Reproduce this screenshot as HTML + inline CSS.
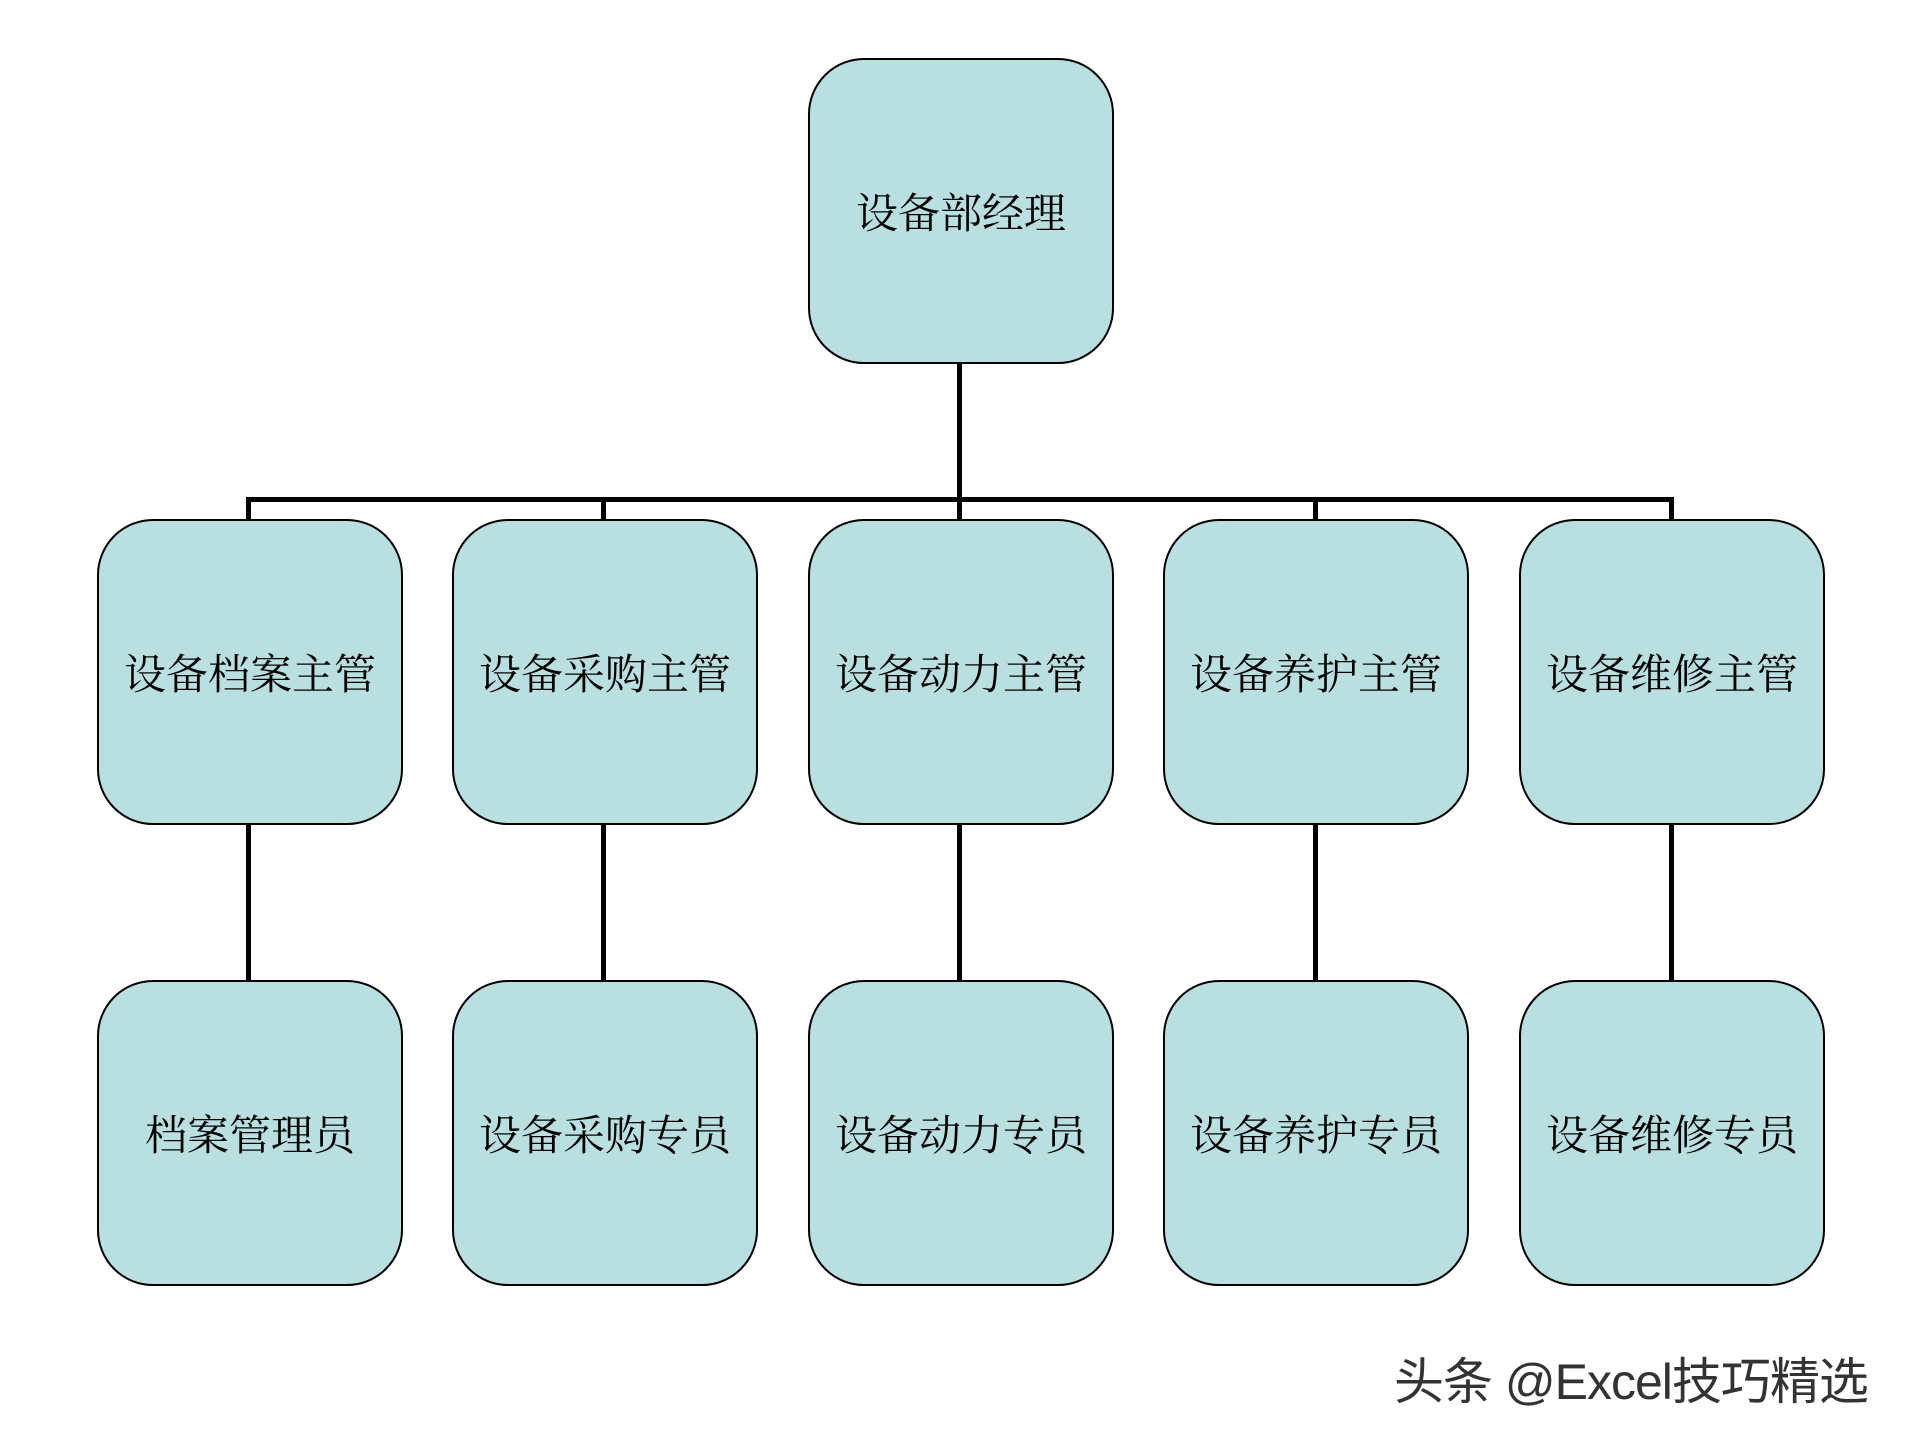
<!DOCTYPE html>
<html><head><meta charset="utf-8"><style>
html,body{margin:0;padding:0;background:#fff;}
body{width:1920px;height:1440px;position:relative;overflow:hidden;}
.b{position:absolute;width:302px;height:302px;background:#b9dfe1;border:2px solid #000;border-radius:56px;display:flex;align-items:center;justify-content:center;font-family:"Liberation Serif","Noto Serif CJK SC",serif;font-size:42px;color:#000;white-space:nowrap;}
.l{position:absolute;background:#000;}
.wm{position:absolute;left:1394px;top:1342px;font-family:"Liberation Sans","Noto Sans CJK SC",sans-serif;font-size:50px;color:#333;letter-spacing:-1px;text-shadow:0 0 3px #fff,1px 1px 0 #fff;}
</style></head><body>
<div class="l" style="left:957px;top:362px;width:5px;height:140px"></div>
<div class="l" style="left:246px;top:497px;width:1428px;height:5px"></div>
<div class="l" style="left:246px;top:497px;width:5px;height:24px"></div>
<div class="l" style="left:601px;top:497px;width:5px;height:24px"></div>
<div class="l" style="left:957px;top:497px;width:5px;height:24px"></div>
<div class="l" style="left:1313px;top:497px;width:5px;height:24px"></div>
<div class="l" style="left:1669px;top:497px;width:5px;height:24px"></div>
<div class="l" style="left:246px;top:820px;width:5px;height:162px"></div>
<div class="l" style="left:601px;top:820px;width:5px;height:162px"></div>
<div class="l" style="left:957px;top:820px;width:5px;height:162px"></div>
<div class="l" style="left:1313px;top:820px;width:5px;height:162px"></div>
<div class="l" style="left:1669px;top:820px;width:5px;height:162px"></div>
<div class="b" style="left:808px;top:58px">设备部经理</div>
<div class="b" style="left:97px;top:519px">设备档案主管</div>
<div class="b" style="left:452px;top:519px">设备采购主管</div>
<div class="b" style="left:808px;top:519px">设备动力主管</div>
<div class="b" style="left:1163px;top:519px">设备养护主管</div>
<div class="b" style="left:1519px;top:519px">设备维修主管</div>
<div class="b" style="left:97px;top:980px">档案管理员</div>
<div class="b" style="left:452px;top:980px">设备采购专员</div>
<div class="b" style="left:808px;top:980px">设备动力专员</div>
<div class="b" style="left:1163px;top:980px">设备养护专员</div>
<div class="b" style="left:1519px;top:980px">设备维修专员</div>
<div class="wm">头条 @Excel技巧精选</div>
</body></html>
